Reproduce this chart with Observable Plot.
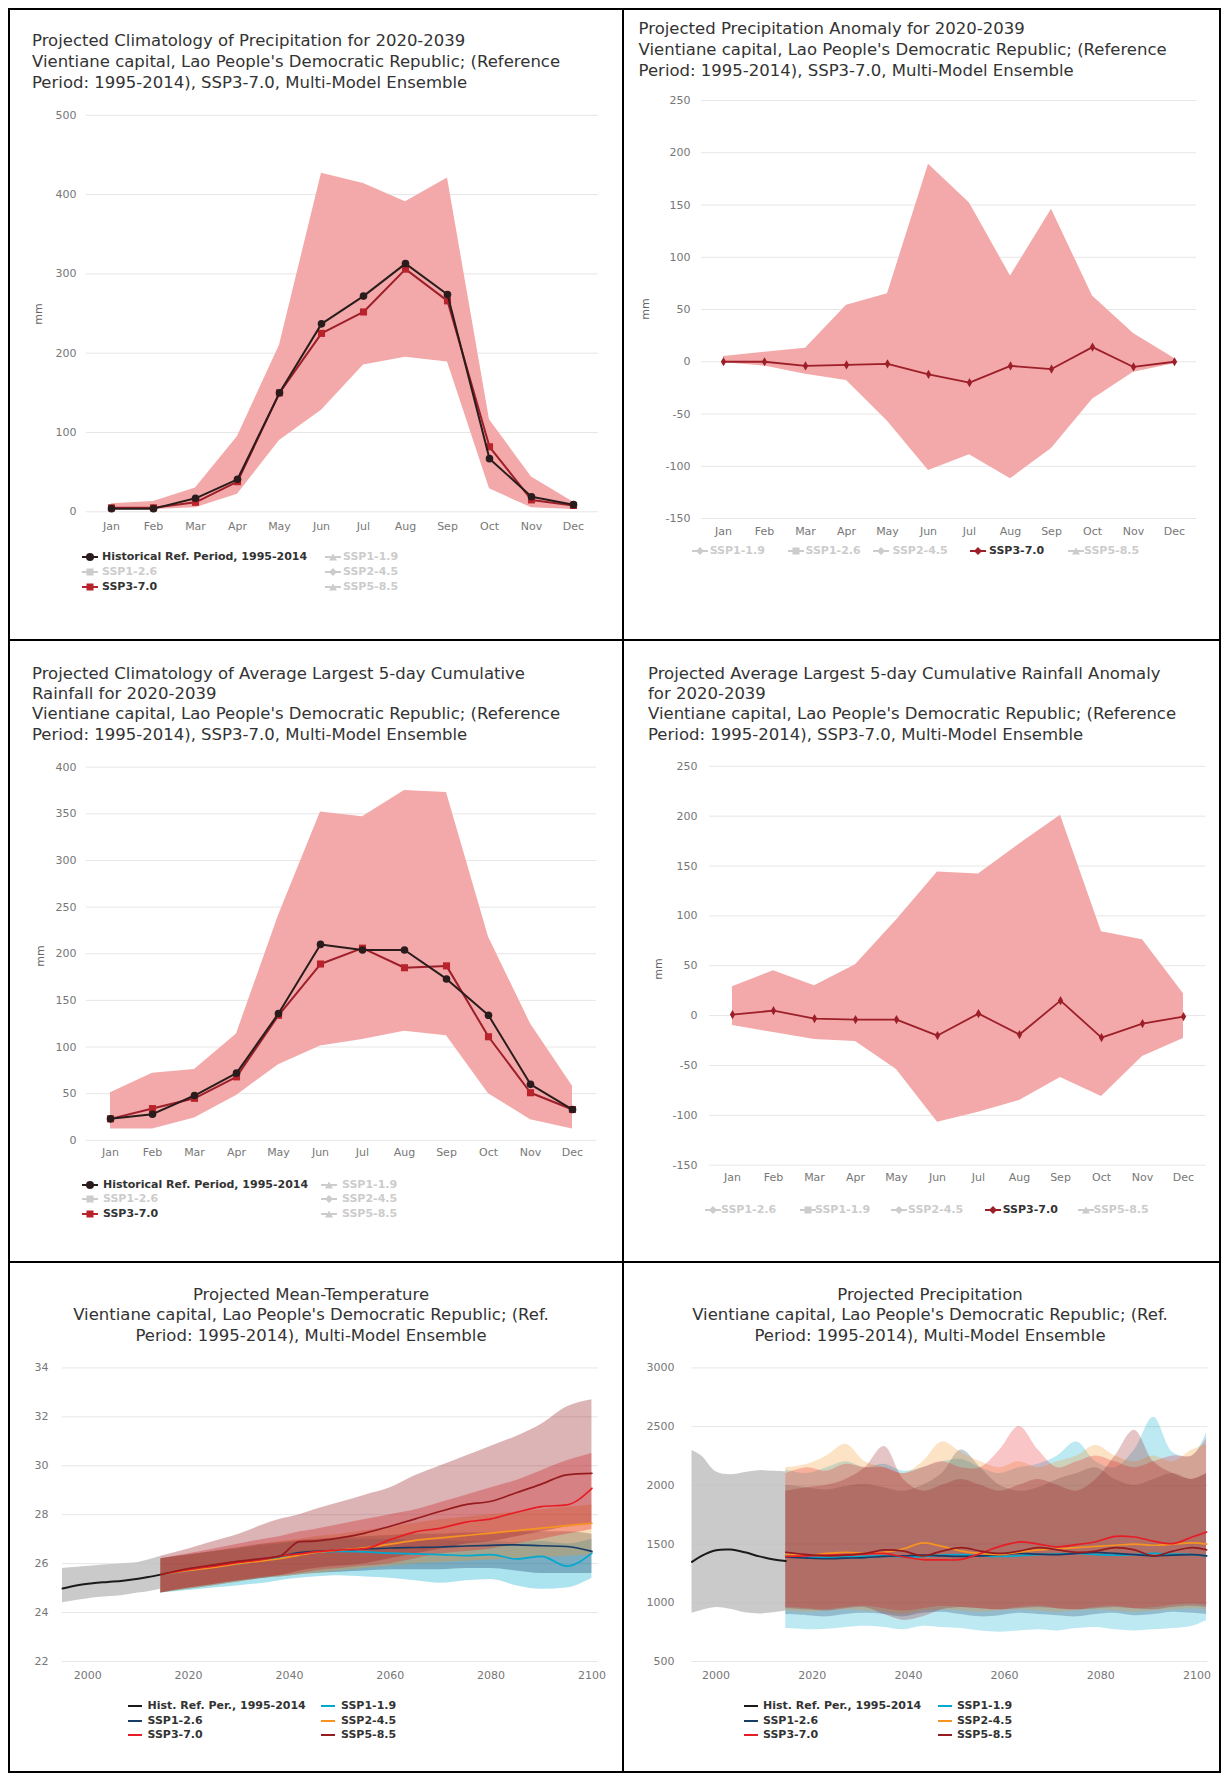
<!DOCTYPE html>
<html><head><meta charset="utf-8">
<script src="https://cdn.jsdelivr.net/npm/d3@7"></script>
<script src="https://cdn.jsdelivr.net/npm/@observablehq/plot@0.6"></script>
<style>
body{margin:0;background:#fff;font-family:"DejaVu Sans",sans-serif;}
#page{position:relative;width:1226px;height:1776px;overflow:hidden;background:#fff}
.bd{position:absolute;background:#000}
.ttl{position:absolute;font-size:16.5px;color:#333;white-space:nowrap;line-height:21px}
.lt{position:absolute;font-size:11px;font-weight:bold;white-space:nowrap;line-height:14px}
.ax{position:absolute;font-size:11px;color:#666;white-space:nowrap;transform:translate(-50%,-50%) rotate(-90deg)}
svg.sym{position:absolute;overflow:visible}
</style></head>
<body><div id="page"></div>
<script>
// ---------------- data ----------------
const months = ["Jan","Feb","Mar","Apr","May","Jun","Jul","Aug","Sep","Oct","Nov","Dec"];
// Panel 1: climatology of precipitation (mm)
const climHist = [4,4,17,41,150,237,272,313,274,67,19,9];
const climSsp370 = [5,5,12,38,150,225,252,306,266,82,15,8];
const climHi = [10,13,30,95,210,427,414,391,421,116,44,12];
const climLo = [3,3,5,22,90,128,185,195,189,29,5,3];
// Panel 2: precipitation anomaly (mm)
const anomSsp370 = [0,0,-4,-3,-2,-12,-20,-4,-7,14,-5,0];
const anomHi = [5,9,13,54,65,189,152,82,146,63,27,3];
const anomLo = [-1,-4,-12,-18,-57,-104,-89,-112,-83,-36,-10,-2];
// Panel 3: largest 5-day cumulative rainfall climatology (mm)
const rx5Hist = [23,28,48,72,136,210,204,204,173,134,60,33];
const rx5Ssp370 = [23,34,45,68,134,189,206,185,187,111,51,33];
const rx5Hi = [51,72,76,114,241,352,347,375,373,218,125,58];
const rx5Lo = [12,12,24,48,81,101,108,117,112,50,22,12];
// Panel 4: largest 5-day cumulative rainfall anomaly (mm)
const rx5aSsp370 = [1,5,-3,-4,-4,-20,2,-19,15,-22,-8,-1];
const rx5aHi = [29,45,30,51,96,144,142,172,201,84,76,22];
const rx5aLo = [-10,-17,-24,-26,-54,-107,-97,-85,-62,-81,-41,-23];

// Panel 5: projected mean temperature (°C)
const tHistYears = [1995,1998,2001,2004,2007,2010,2012,2014.5];
const tHist   = [24.98,25.12,25.2,25.25,25.3,25.38,25.45,25.55];
const tHistHi = [25.8,25.85,25.9,25.95,26.0,26.05,26.15,26.3];
const tHistLo = [24.4,24.5,24.6,24.65,24.7,24.8,24.85,24.95];
const tYears = [2014.5,2020,2025,2030,2035,2038,2042,2045,2050,2055,2060,2065,2070,2075,2080,2085,2090,2095,2100];
const tSsp119 = [25.55,25.72,25.88,26.0,26.15,26.25,26.4,26.45,26.5,26.48,26.43,26.4,26.37,26.33,26.37,26.19,26.3,25.9,26.43];
const tSsp119Hi = [26.2,26.35,26.5,26.6,26.75,26.8,26.9,26.95,27.0,27.0,27.0,26.95,26.95,26.9,26.9,26.85,26.9,26.8,27.0];
const tSsp119Lo = [24.8,24.9,25.0,25.1,25.2,25.3,25.4,25.45,25.5,25.45,25.4,25.3,25.2,25.3,25.35,25.1,24.95,25.0,25.4];
const tSsp126 = [25.55,25.75,25.9,26.05,26.2,26.3,26.45,26.5,26.55,26.6,26.64,26.66,26.68,26.72,26.75,26.77,26.73,26.7,26.5];
const tSsp126Hi = [26.2,26.35,26.5,26.65,26.8,26.85,26.95,27.0,27.05,27.1,27.15,27.2,27.2,27.25,27.25,27.3,27.3,27.3,27.2];
const tSsp126Lo = [24.8,24.95,25.1,25.25,25.4,25.45,25.55,25.6,25.65,25.7,25.75,25.75,25.75,25.8,25.8,25.7,25.6,25.6,25.6];
const tSsp245 = [25.55,25.72,25.85,26.0,26.12,26.2,26.35,26.45,26.55,26.65,26.8,26.95,27.05,27.15,27.25,27.35,27.45,27.55,27.65];
const tSsp245Hi = [26.2,26.35,26.5,26.65,26.8,26.9,27.0,27.1,27.2,27.35,27.5,27.65,27.8,27.9,28.0,28.1,28.2,28.3,28.4];
const tSsp245Lo = [24.8,24.95,25.1,25.25,25.4,25.45,25.55,25.6,25.7,25.8,25.9,26.0,26.05,26.1,26.15,26.2,26.25,26.3,26.35];
const tSsp370 = [25.55,25.75,25.9,26.05,26.18,26.3,26.4,26.48,26.56,26.61,26.98,27.3,27.45,27.7,27.83,28.1,28.33,28.4,29.08];
const tSsp370Hi = [26.2,26.4,26.6,26.8,27.0,27.1,27.3,27.4,27.6,27.8,28.0,28.2,28.5,28.8,29.1,29.4,29.8,30.2,30.5];
const tSsp370Lo = [24.8,25.0,25.15,25.3,25.45,25.5,25.6,25.7,25.8,25.9,26.0,26.2,26.4,26.5,26.6,26.8,27.0,27.2,27.4];
const tSsp585 = [25.55,25.8,25.95,26.1,26.22,26.3,26.9,26.92,27.05,27.25,27.53,27.83,28.14,28.41,28.55,28.9,29.25,29.63,29.69];
const tSsp585Hi = [26.3,26.6,26.9,27.2,27.6,27.8,28.0,28.2,28.5,28.8,29.1,29.6,30.0,30.4,30.8,31.2,31.7,32.4,32.7];
const tSsp585Lo = [24.8,25.0,25.15,25.3,25.4,25.5,25.7,25.8,25.9,26.0,26.2,26.4,26.6,26.8,26.9,27.1,27.3,27.5,27.6];

// Panel 6: projected annual precipitation (mm)
const pHistYears = [1995,1997,2000,2003,2006,2009,2012,2014.5];
const pHist   = [1348,1400,1447,1453,1430,1395,1368,1355];
const pHistHi = [2297,2250,2115,2090,2110,2125,2120,2115];
const pHistLo = [910,935,960,945,915,905,915,930];
const pYears = [2014.5,2019,2023,2027,2031,2035,2039,2043,2047,2051,2055,2059,2063,2067,2071,2075,2079,2083,2087,2091,2095,2099,2102];
const pSsp119 = [1400,1390,1385,1390,1395,1400,1390,1395,1405,1410,1400,1395,1400,1410,1415,1420,1410,1405,1410,1420,1415,1410,1400];
const pSsp119Hi = [2130,2100,2150,2200,2150,2180,2120,2150,2200,2220,2150,2100,2150,2180,2250,2370,2200,2150,2300,2580,2280,2250,2450];
const pSsp119Lo = [780,770,775,790,800,790,770,800,790,780,760,750,760,770,760,780,790,770,760,770,780,800,850];
const pSsp126 = [1390,1380,1375,1380,1385,1395,1400,1405,1400,1395,1400,1410,1420,1415,1410,1420,1430,1420,1410,1400,1405,1410,1400];
const pSsp126Hi = [2000,1980,1960,1990,2010,1980,1950,2000,2100,2300,2150,2000,1950,1980,2050,2100,2150,2050,2000,2050,2100,2050,2100];
const pSsp126Lo = [900,890,880,900,910,900,880,910,920,900,880,890,910,900,890,880,900,910,890,900,920,910,900];
const pSsp245 = [1410,1405,1420,1430,1420,1430,1460,1510,1480,1440,1420,1410,1430,1450,1460,1470,1480,1490,1500,1490,1500,1510,1500];
const pSsp245Hi = [2150,2180,2250,2350,2200,2150,2100,2200,2370,2280,2200,2150,2200,2150,2200,2250,2340,2250,2200,2250,2200,2300,2350];
const pSsp245Lo = [930,920,930,940,930,920,900,930,940,930,920,930,940,930,920,930,940,930,920,930,940,950,940];
const pSsp370 = [1395,1400,1405,1410,1415,1420,1390,1368,1365,1370,1420,1480,1518,1500,1476,1495,1520,1565,1560,1525,1504,1560,1603];
const pSsp370Hi = [2100,2150,2120,2180,2150,2150,2100,2150,2200,2150,2150,2300,2500,2300,2150,2200,2250,2200,2150,2200,2250,2250,2400];
const pSsp370Lo = [960,950,940,960,970,950,930,950,970,960,950,940,960,970,950,940,960,970,950,960,980,990,980];
const pSsp585 = [1430,1410,1400,1405,1420,1450,1440,1400,1440,1470,1440,1420,1440,1470,1450,1430,1440,1470,1450,1400,1440,1470,1450];
const pSsp585Hi = [1950,1980,2000,2050,2150,2330,2050,1950,2000,2050,2000,1950,2000,2050,2000,1950,2050,2250,2470,2200,2100,2050,2100];
const pSsp585Lo = [950,940,930,950,960,900,850,880,940,960,950,940,950,960,950,940,950,960,950,940,960,970,960];

const yearTicks = [2000,2020,2040,2060,2080,2100];

// ---------------- styling ----------------
const BAND = "#f3a9a9";
const HIST_C = "#2a1c1c";
const RED_LINE = "#9c1f29";
const RED_MARK = "#b8232c";
const C = {h:"#1a1a1a", s119:"#00a9cf", s126:"#173c66", s245:"#f79420", s370:"#e71d25", s585:"#951b1e"};
const FONT = "DejaVu Sans";

const page = document.getElementById("page");
function add(el){ page.appendChild(el); return el; }
function div(cls, left, top, html, extra){
  const d = document.createElement("div"); d.className = cls;
  d.style.left = left + "px"; d.style.top = top + "px";
  if (html !== undefined) d.innerHTML = html;
  if (extra) Object.assign(d.style, extra);
  return add(d);
}

// borders
function line(l,t,w,h){ div("bd", l, t, undefined, {width:w+"px", height:h+"px"}); }
line(8,8,1213,2); line(8,1771,1213,2); line(8,8,2,1765); line(1219,8,2,1765);
line(622,8,2,1765); line(8,639,1213,2); line(8,1261,1213,2);

// titles
div("ttl",32,29.5,"Projected Climatology of Precipitation for 2020-2039<br>Vientiane capital, Lao People's Democratic Republic; (Reference<br>Period: 1995-2014), SSP3-7.0, Multi-Model Ensemble");
div("ttl",638.6,18,"Projected Precipitation Anomaly for 2020-2039<br>Vientiane capital, Lao People's Democratic Republic; (Reference<br>Period: 1995-2014), SSP3-7.0, Multi-Model Ensemble");
div("ttl",32,664,"Projected Climatology of Average Largest 5-day Cumulative<br>Rainfall for 2020-2039<br>Vientiane capital, Lao People's Democratic Republic; (Reference<br>Period: 1995-2014), SSP3-7.0, Multi-Model Ensemble",{lineHeight:"20.2px"});
div("ttl",648,664,"Projected Average Largest 5-day Cumulative Rainfall Anomaly<br>for 2020-2039<br>Vientiane capital, Lao People's Democratic Republic; (Reference<br>Period: 1995-2014), SSP3-7.0, Multi-Model Ensemble",{lineHeight:"20.2px"});
div("ttl",11,1284.5,"Projected Mean-Temperature<br>Vientiane capital, Lao People's Democratic Republic; (Ref.<br>Period: 1995-2014), Multi-Model Ensemble",{width:"600px",textAlign:"center",lineHeight:"20.5px"});
div("ttl",630,1284.5,"Projected Precipitation<br>Vientiane capital, Lao People's Democratic Republic; (Ref.<br>Period: 1995-2014), Multi-Model Ensemble",{width:"600px",textAlign:"center",lineHeight:"20.5px"});

// axis titles
div("ax",38,314,"mm"); div("ax",645,309,"mm"); div("ax",40,956,"mm"); div("ax",658,969,"mm");

// legend helper
function sym(x, y, color, marker, w){
  w = w || 16;
  const ns = "http://www.w3.org/2000/svg";
  const s = document.createElementNS(ns,"svg");
  s.setAttribute("class","sym"); s.setAttribute("width",w); s.setAttribute("height",10);
  s.style.left = x+"px"; s.style.top = (y-5)+"px";
  let inner = `<line x1="0" x2="${w}" y1="5" y2="5" stroke="${color}" stroke-width="2"/>`;
  const c = w/2;
  if (marker==="circle") inner += `<circle cx="${c}" cy="5" r="4" fill="${color}"/>`;
  if (marker==="square") inner += `<rect x="${c-3.5}" y="1.5" width="7" height="7" fill="${color}"/>`;
  if (marker==="diamond") inner += `<path d="M${c},1 L${c+4},5 L${c},9 L${c-4},5Z" fill="${color}"/>`;
  if (marker==="triangle") inner += `<path d="M${c},1.5 L${c+4},8.5 L${c-4},8.5Z" fill="${color}"/>`;
  s.innerHTML = inner; page.appendChild(s);
}
function item(sx, tx, y, label, color, marker, active, w){
  sym(sx, y, active ? color : "#cccccc", marker, w);
  div("lt", tx, y-7, label, {color: active ? "#333" : "#cccccc", fontSize: "11px"});
}
// panel 1 legend
item(82,102,557,"Historical Ref. Period, 1995-2014",HIST_C,"circle",true);
item(82,102,572,"SSP1-2.6","#ccc","square",false);
item(82,102,587,"SSP3-7.0",RED_MARK,"square",true);
item(325,343,557,"SSP1-1.9","#ccc","triangle",false);
item(325,343,572,"SSP2-4.5","#ccc","diamond",false);
item(325,343,587,"SSP5-8.5","#ccc","triangle",false);
// panel 2 legend
item(691.5,709.7,551,"SSP1-1.9","#ccc","diamond",false);
item(788,805.5,551,"SSP1-2.6","#ccc","square",false);
item(873,892.5,551,"SSP2-4.5","#ccc","diamond",false);
item(970,989,551,"SSP3-7.0",RED_LINE,"diamond",true);
item(1068,1084,551,"SSP5-8.5","#ccc","triangle",false);
// panel 3 legend
item(82,103,1184.6,"Historical Ref. Period, 1995-2014",HIST_C,"circle",true);
item(82,103,1199,"SSP1-2.6","#ccc","square",false);
item(82,103,1213.6,"SSP3-7.0",RED_MARK,"square",true);
item(321,342,1184.6,"SSP1-1.9","#ccc","triangle",false);
item(321,342,1199,"SSP2-4.5","#ccc","diamond",false);
item(321,342,1213.6,"SSP5-8.5","#ccc","triangle",false);
// panel 4 legend
item(705,721,1209.5,"SSP1-2.6","#ccc","diamond",false);
item(800,815,1209.5,"SSP1-1.9","#ccc","square",false);
item(890.6,908,1209.5,"SSP2-4.5","#ccc","diamond",false);
item(985,1002.7,1209.5,"SSP3-7.0",RED_LINE,"diamond",true);
item(1078,1093.5,1209.5,"SSP5-8.5","#ccc","triangle",false);
// panels 5 & 6 legends
for (const [x1,t1,x2,t2] of [[127.5,147.5,321,341],[743.7,763,938,957]]) {
  item(x1,t1,1706,"Hist. Ref. Per., 1995-2014",C.h,null,true,14);
  item(x1,t1,1721,"SSP1-2.6",C.s126,null,true,14);
  item(x1,t1,1735,"SSP3-7.0",C.s370,null,true,14);
  item(x2,t2,1706,"SSP1-1.9",C.s119,null,true,14);
  item(x2,t2,1721,"SSP2-4.5",C.s245,null,true,14);
  item(x2,t2,1735,"SSP5-8.5",C.s585,null,true,14);
}

// ---------------- plots ----------------
function placeSvg(svg, left, top){
  svg.style.position = "absolute"; svg.style.left = left+"px"; svg.style.top = top+"px";
  page.appendChild(svg);
}
function range(a,b,s){ const r=[]; for(let v=a; v<=b+1e-9; v+=s) r.push(v); return r; }

function monthly(cfg){
  const band = months.map((m,i)=>({m, lo:cfg.lo[i], hi:cfg.hi[i]}));
  const marks = [
    Plot.gridY(cfg.ticks, {stroke:"#e6e6e6", strokeOpacity:1, strokeWidth:1}),
    Plot.areaY(band, {x:"m", y1:"lo", y2:"hi", fill:BAND, fillOpacity:1})
  ];
  for (const s of cfg.series){
    const d = months.map((m,i)=>({m, v:s.values[i]}));
    marks.push(Plot.line(d, {x:"m", y:"v", stroke:s.stroke, strokeWidth:s.sw||2}));
    marks.push(Plot.dot(d, {x:"m", y:"v", symbol:s.symbol, r:s.r, fill:s.fill, stroke:"none"}));
  }
  const svg = Plot.plot({
    width:cfg.w, height:cfg.h,
    marginLeft:cfg.ml, marginRight:cfg.mr, marginTop:cfg.mt, marginBottom:cfg.mb,
    x:{type:"point", domain:months, padding:0.5, label:null, tickSize:0, tickPadding:cfg.xp},
    y:{domain:cfg.yd, ticks:cfg.ticks, tickFormat:d=>String(d), label:null, tickSize:0, tickPadding:cfg.yp},
    style:{fontSize:"11px", fontFamily:FONT, color:"#777", background:"transparent", overflow:"visible"},
    marks
  });
  placeSvg(svg, cfg.left, cfg.top);
}

monthly({left:20, top:100, w:600, h:450, ml:66, mr:22, mt:14.8, mb:38.7, xp:10, yp:10,
  yd:[0,500], ticks:range(0,500,100), hi:climHi, lo:climLo,
  series:[
    {values:climSsp370, stroke:RED_LINE, symbol:"square", r:4, fill:RED_MARK},
    {values:climHist, stroke:HIST_C, symbol:"circle", r:3.8, fill:HIST_C}
  ]});
monthly({left:630, top:86, w:590, h:460, ml:71, mr:24, mt:14, mb:28, xp:8.5, yp:11,
  yd:[-150,250], ticks:range(-150,250,50), hi:anomHi, lo:anomLo,
  series:[{values:anomSsp370, stroke:RED_LINE, symbol:"diamond", r:2.8, fill:RED_LINE, sw:1.8}]});
monthly({left:20, top:752, w:600, h:420, ml:66, mr:24, mt:14.7, mb:32.2, xp:8, yp:10,
  yd:[0,400], ticks:range(0,400,50), hi:rx5Hi, lo:rx5Lo,
  series:[
    {values:rx5Ssp370, stroke:RED_LINE, symbol:"square", r:4, fill:RED_MARK},
    {values:rx5Hist, stroke:HIST_C, symbol:"circle", r:3.8, fill:HIST_C}
  ]});
monthly({left:630, top:752, w:590, h:440, ml:79, mr:14.4, mt:13.8, mb:27.3, xp:8, yp:12,
  yd:[-150,250], ticks:range(-150,250,50), hi:rx5aHi, lo:rx5aLo,
  series:[{values:rx5aSsp370, stroke:RED_LINE, symbol:"diamond", r:2.8, fill:RED_LINE, sw:1.8}]});

function ts(cfg){
  const marks = [Plot.gridY(cfg.ticks, {stroke:"#e6e6e6", strokeOpacity:1, strokeWidth:1})];
  const rows = (xs, lo, hi) => xs.map((x,i)=>({x, lo:lo[i], hi:hi[i]}));
  const pts = (xs, v) => xs.map((x,i)=>({x, v:v[i]}));
  marks.push(Plot.areaY(rows(cfg.histX, cfg.histLo, cfg.histHi), {x:"x", y1:"lo", y2:"hi", fill:"#bdbdbd", fillOpacity:0.8, curve:cfg.curve}));
  for (const s of cfg.series)
    marks.push(Plot.areaY(rows(cfg.projX, s.lo, s.hi), {x:"x", y1:"lo", y2:"hi", fill:s.c, fillOpacity:cfg.op, curve:cfg.curve}));
  marks.push(Plot.line(pts(cfg.histX, cfg.hist), {x:"x", y:"v", stroke:C.h, strokeWidth:2, curve:cfg.curve}));
  for (const s of cfg.series)
    marks.push(Plot.line(pts(cfg.projX, s.v), {x:"x", y:"v", stroke:s.c, strokeWidth:1.7, curve:cfg.curve}));
  const svg = Plot.plot({
    width:cfg.w, height:cfg.h,
    marginLeft:cfg.ml, marginRight:cfg.mr, marginTop:cfg.mt, marginBottom:cfg.mb,
    x:{domain:cfg.xd, ticks:yearTicks, tickFormat:d=>String(d), label:null, tickSize:0, tickPadding:9.5},
    y:{domain:cfg.yd, ticks:cfg.ticks, tickFormat:d=>String(d), label:null, tickSize:0, tickPadding:cfg.yp},
    style:{fontSize:"11px", fontFamily:FONT, color:"#777", background:"transparent", overflow:"visible"},
    marks
  });
  placeSvg(svg, cfg.left, cfg.top);
}

ts({left:12, top:1355, w:600, h:340, ml:50, mr:14, mt:12.4, mb:34, yp:14,
  xd:[1995,2101.3], yd:[22,34], ticks:range(22,34,2), curve:"monotone-x", op:0.33,
  histX:tHistYears, hist:tHist, histHi:tHistHi, histLo:tHistLo, projX:tYears,
  series:[
    {c:C.s119, v:tSsp119, hi:tSsp119Hi, lo:tSsp119Lo},
    {c:C.s126, v:tSsp126, hi:tSsp126Hi, lo:tSsp126Lo},
    {c:C.s245, v:tSsp245, hi:tSsp245Hi, lo:tSsp245Lo},
    {c:C.s370, v:tSsp370, hi:tSsp370Hi, lo:tSsp370Lo},
    {c:C.s585, v:tSsp585, hi:tSsp585Hi, lo:tSsp585Lo}
  ]});
ts({left:630, top:1355, w:590, h:340, ml:61.5, mr:12.5, mt:12.4, mb:34, yp:17.5,
  xd:[1995,2102.3], yd:[500,3000], ticks:range(500,3000,500), curve:"catmull-rom", op:0.26,
  histX:pHistYears, hist:pHist, histHi:pHistHi, histLo:pHistLo, projX:pYears,
  series:[
    {c:C.s119, v:pSsp119, hi:pSsp119Hi, lo:pSsp119Lo},
    {c:C.s126, v:pSsp126, hi:pSsp126Hi, lo:pSsp126Lo},
    {c:C.s245, v:pSsp245, hi:pSsp245Hi, lo:pSsp245Lo},
    {c:C.s370, v:pSsp370, hi:pSsp370Hi, lo:pSsp370Lo},
    {c:C.s585, v:pSsp585, hi:pSsp585Hi, lo:pSsp585Lo}
  ]});
</script>
</body></html>
